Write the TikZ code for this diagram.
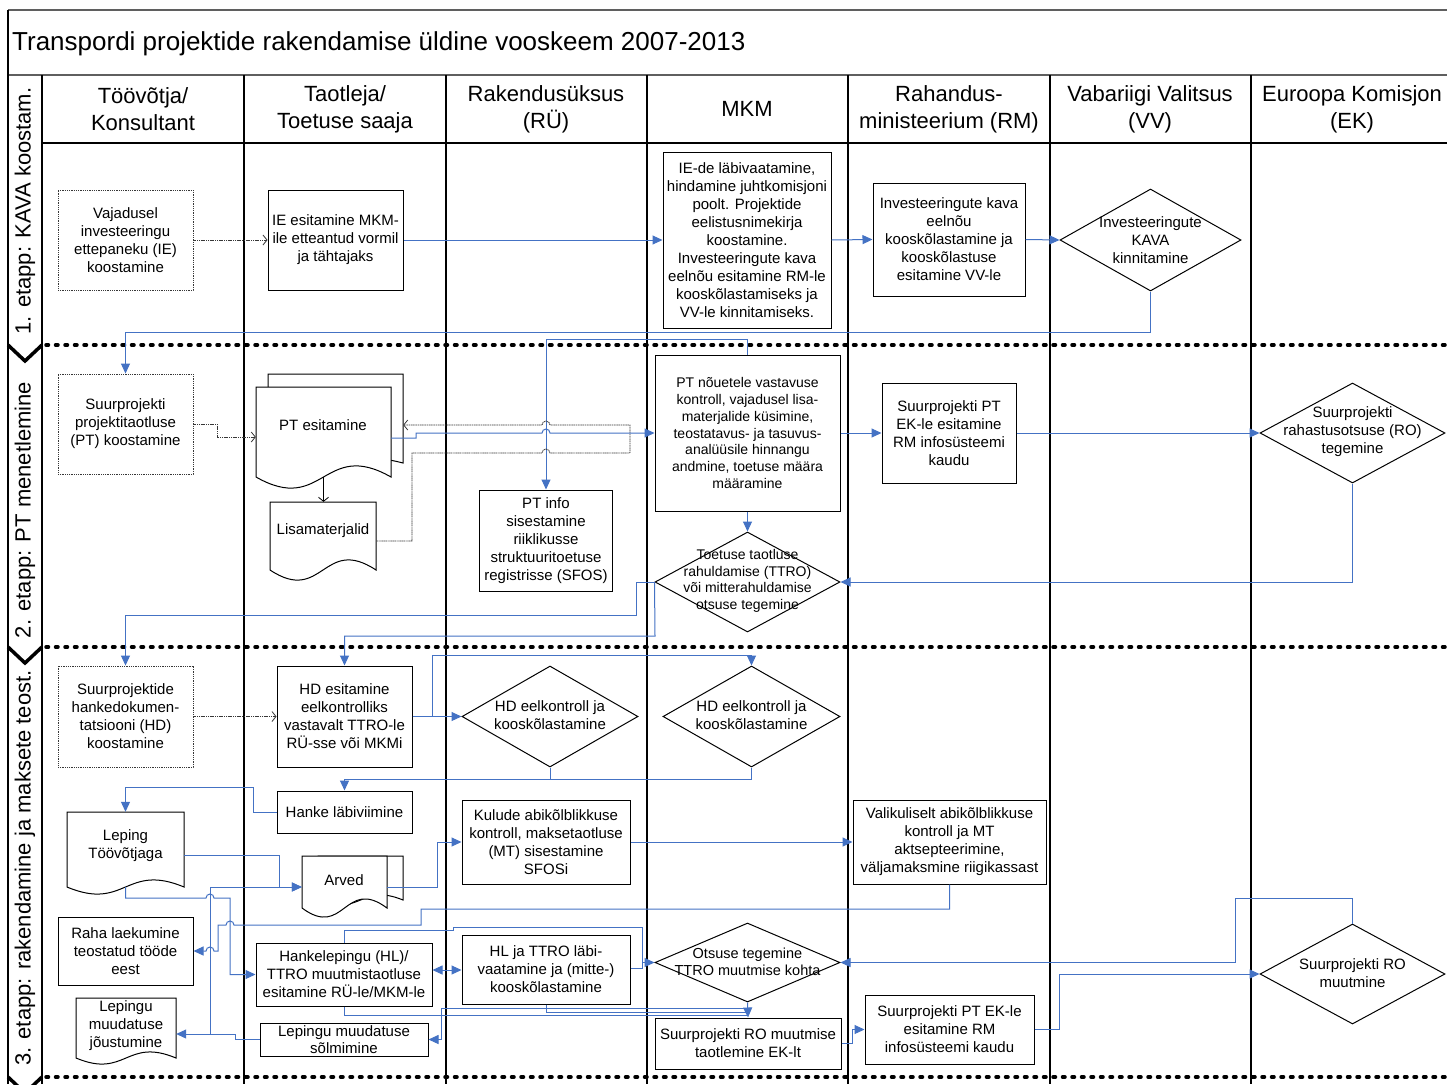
\documentclass[tikz,border=0pt]{standalone}
\usepackage{fontspec}
\setmainfont{Liberation Sans}
\usetikzlibrary{arrows.meta,shapes.geometric}
\definecolor{cblue}{RGB}{68,114,196}
\definecolor{cgray}{RGB}{55,55,55}
\definecolor{fgray}{RGB}{95,95,95}
\tikzset{
 body/.style={font=\fontsize{15}{18}\selectfont, align=center, text=black},
 small/.style={font=\fontsize{14}{16.7}\selectfont},
 box/.style={body, draw=black, line width=1pt, fill=white, rectangle, inner sep=1pt},
 dbox/.style={box, draw=cgray, dash pattern=on 1pt off 0.8pt, line width=0.9pt},
 dia/.style={draw=black, line width=1pt, diamond, inner sep=0pt, fill=white},
 lbl/.style={body, inner sep=0pt},
 ghost/.style={inner sep=0pt, draw=none},
 bline/.style={draw=cblue, line width=1pt},
 bconn/.style={bline, -{Triangle[length=10pt,width=9pt]}},
 bboth/.style={bline, {Triangle[length=10pt,width=9pt]}-{Triangle[length=10pt,width=9pt]}},
 gconn/.style={draw=cgray, line width=0.8pt, dash pattern=on 1.2pt off 0.6pt, -{Straight Barb[length=4pt,width=10pt]}},
 kconn/.style={draw=black, line width=0.8pt, -{Straight Barb[length=4pt,width=10pt]}},
 docst/.style={draw=black, line width=1pt, fill=white},
 hdr/.style={font=\fontsize{22}{27}\selectfont, align=center, inner sep=0pt},
 sepline/.style={line width=3.5pt, dash pattern=on 2.5pt off 7pt, line cap=round},
 colline/.style={line width=1.2pt, draw=black},
 frameline/.style={line width=2pt, draw=fgray},
 chev/.style={line width=3.5pt, draw=black, line join=miter},
}
\newcommand\DocShape[5]{%
 \path[docst] (#1,#2) -- (#3,#2) -- (#3,#4) .. controls ({(#1+#3)/2},{#4-3.5*#5}) and ({(#1+#3)/2},{#4+3.5*#5}) .. (#1,#4) -- cycle;}
\begin{document}
\begin{tikzpicture}[x=1pt,y=-1pt]
\useasboundingbox (0,0) rectangle (1447,1084);
\fill[white] (0,0) rectangle (1447,1084);

% frame
\draw[frameline] (8,10) -- (1447,10);
\draw[frameline] (8,75) -- (1447,75);
\draw[colline] (8,10) -- (8,1084);
\draw[colline] (42,75) -- (42,1084);
\draw[colline] (42,143) -- (1447,143);
\foreach \cx in {244,446,647,848,1050,1251} {\draw[colline] (\cx,75) -- (\cx,1084);}
\foreach \sy in {345,647,1077} {
  \draw[sepline] (46,\sy) -- (1447,\sy);
  \draw[chev] (8,\sy) -- (25,\sy+16) -- (42,\sy);
}

\node[anchor=base west, font=\fontsize{26}{30}\selectfont, inner sep=0pt] (title) at (12,50) {Transpordi projektide rakendamise üldine vooskeem 2007-2013};

% headers
\node[hdr] (h1) at (143,109) {Töövõtja/\\Konsultant};
\node[hdr] (h2) at (345,109) {Taotleja/\\Toetuse saaja};
\node[hdr] (h3) at (546,109) {Rakendusüksus\\(RÜ)};
\node[hdr] (h4) at (747,109) {MKM};
\node[hdr] (h5) at (949,109) {Rahandus-\\ministeerium (RM)};
\node[hdr] (h6) at (1150,109) {Vabariigi Valitsus\\(VV)};
\node[hdr] (h7) at (1352,109) {Euroopa Komisjon\\(EK)};

% lane labels
\node[hdr, rotate=90] (L1) at (25,211) {1. etapp: KAVA koostam.};
\node[hdr, rotate=90] (L2) at (25,510) {2. etapp: PT menetlemine};
\node[hdr, rotate=90] (L3) at (25,868) {3. etapp: rakendamine ja maksete teost.};

% ---------- phase 1
\node[dbox, minimum width=135pt, minimum height=100pt] (A1) at (125.5,240) {Vajadusel\\investeeringu\\ettepaneku (IE)\\koostamine};
\node[box, minimum width=135pt, minimum height=100pt] (A2) at (335.5,240) {IE esitamine MKM-\\ile etteantud vormil\\ja tähtajaks};
\node[box, minimum width=168pt, minimum height=176pt] (A3) at (747,240) {IE-de läbivaatamine,\\hindamine juhtkomisjoni\\poolt. Projektide\\eelistusnimekirja\\koostamine.\\Investeeringute kava\\eelnõu esitamine RM-le\\kooskõlastamiseks ja\\VV-le kinnitamiseks.};
\node[box, minimum width=152pt, minimum height=113pt] (A4) at (949,239.5) {Investeeringute kava\\eelnõu\\kooskõlastamine ja\\kooskõlastuse\\esitamine VV-le};
\node[dia, minimum width=181pt, minimum height=102pt] (A5) at (1150.5,240) {};
\node[lbl] (A5t) at (1150.5,240) {Investeeringute\\KAVA\\kinnitamine};

\draw[gconn] (A1.east) -- (A2.west);
\draw[bconn] (A2.east) -- (A3.west);
\draw[bconn] (A3.east) -- (A4.west);
\draw[bconn] (A4.east) -- (A5.west);

% ---------- phase 2
\node[dbox, minimum width=135pt, minimum height=100pt] (B1) at (125.5,424) {Suurprojekti\\projektitaotluse\\(PT) koostamine};
\node[ghost, minimum width=135pt, minimum height=89pt] (B2back) at (335.5,418.5) {};
\node[ghost, minimum width=135pt, minimum height=90pt] (B2) at (323.5,432) {};
\node[ghost, minimum width=106pt, minimum height=68pt] (Lisa) at (323.5,536) {};
\DocShape{268}{374}{403}{463}{5}
\DocShape{256}{387}{391}{477}{11}
\DocShape{270}{502}{376}{570}{10}
\node[lbl] (B2t) at (323,425) {PT esitamine};
\node[lbl] (Lisat) at (323,531) {Lisamaterjalid};
\node[box, minimum width=133pt, minimum height=101pt] (PTinfo) at (546,540.5) {PT info\\sisestamine\\riiklikusse\\struktuuritoetuse\\registrisse (SFOS)};
\node[box, small, minimum width=185pt, minimum height=156pt] (B3) at (747.5,433) {PT nõuetele vastavuse\\kontroll, vajadusel lisa-\\materjalide küsimine,\\teostatavus- ja tasuvus-\\analüüsile hinnangu\\andmine, toetuse määra\\määramine};
\node[box, minimum width=134pt, minimum height=100pt] (B4) at (949,433) {Suurprojekti PT\\EK-le esitamine\\RM infosüsteemi\\kaudu};
\node[dia, minimum width=185pt, minimum height=100pt] (B5) at (1352.5,433) {};
\node[lbl] (B5t) at (1352.5,432) {Suurprojekti\\rahastusotsuse (RO)\\tegemine};
\node[dia, minimum width=185pt, minimum height=100pt] (B6) at (747.5,582) {};
\node[lbl, small] (B6t) at (747.5,581) {Toetuse taotluse\\rahuldamise (TTRO)\\või mitterahuldamise\\otsuse tegemine};

\draw[bconn] (A5.south) -- (1150.5,332) -- (125.5,332) -- (B1.north);
\draw[bconn] (B3.north) |- (546,339) -- (PTinfo.north);
\draw[gconn] (B1.east) -- (217,424) -- (217,437) -- (B2.west |- 0,437);
\draw[kconn] (B2.south) -- (Lisa.north);
\draw[gconn] (Lisa.east |- 0,541) -- (412,541) -- (412,453) -- (542,453) arc (180:0:4pt) -- (630,453) -- (630,425) -- (550,425) arc (0:180:4pt) -- (B2back.east |- 0,425);
\draw[bconn] (B2.east |- 0,438) -- (416,438) -- (416,433) -- (542,433) arc (180:0:4pt) -- (B3.west);
\draw[bconn] (B3.east) -- (B4.west);
\draw[bconn] (B4.east) -- (B5.west);
\draw[bconn] (B3.south) -- (B6.north);
\draw[bconn] (B5.south) |- (B6.east);

% ---------- phase 3
\node[dbox, minimum width=135pt, minimum height=101pt] (C1) at (125.5,716.5) {Suurprojektide\\hankedokumen-\\tatsiooni (HD)\\koostamine};
\node[box, minimum width=135pt, minimum height=101pt] (C2) at (344.5,716.5) {HD esitamine\\eelkontrolliks\\vastavalt TTRO-le\\RÜ-sse või MKMi};
\node[dia, minimum width=176pt, minimum height=101pt] (C3) at (550,716.5) {};
\node[lbl] (C3t) at (550,715) {HD eelkontroll ja\\kooskõlastamine};
\node[dia, minimum width=177pt, minimum height=101pt] (C4) at (751.5,716.5) {};
\node[lbl] (C4t) at (751.5,715) {HD eelkontroll ja\\kooskõlastamine};
\node[box, minimum width=135pt, minimum height=42pt] (C5) at (344.5,812) {Hanke läbiviimine};
\node[ghost, minimum width=117pt, minimum height=75pt] (Leping) at (125.5,849.5) {};
\DocShape{67}{812}{184}{887}{7}
\node[lbl] (Lepingt) at (125.5,845.5) {Leping\\Töövõtjaga};
\node[ghost, minimum width=85pt, minimum height=44pt] (ArvedB) at (360.5,878) {};
\node[ghost, minimum width=85pt, minimum height=52pt] (Arved) at (344.5,882) {};
\DocShape{318}{856}{403}{900}{5}
\DocShape{302}{856}{387}{908}{9}
\node[lbl] (Arvedt) at (344,880) {Arved};
\node[box, minimum width=168pt, minimum height=84pt] (C8) at (546,842) {Kulude abikõlblikkuse\\kontroll, maksetaotluse\\(MT) sisestamine\\SFOSi};
\node[box, minimum width=193pt, minimum height=84pt] (C10) at (949.5,842) {Valikuliselt abikõlblikkuse\\kontroll ja MT\\aktsepteerimine,\\väljamaksmine riigikassast};
\node[box, minimum width=135pt, minimum height=68pt] (C18) at (125.5,951) {Raha laekumine\\teostatud tööde\\eest};
\node[box, minimum width=176pt, minimum height=63pt] (C9) at (344,974.5) {Hankelepingu (HL)/\\TTRO muutmistaotluse\\esitamine RÜ-le/MKM-le};
\node[box, minimum width=168pt, minimum height=69pt] (C13) at (546,969.5) {HL ja TTRO läbi-\\vaatamine ja (mitte-)\\kooskõlastamine};
\node[dia, minimum width=185pt, minimum height=79pt] (C14) at (747.5,962.5) {};
\node[lbl, font=\fontsize{14.5}{16.5}\selectfont] (C14t) at (747.5,962) {Otsuse tegemine\\TTRO muutmise kohta};
\node[ghost, minimum width=100pt, minimum height=60pt] (C12) at (126,1028) {};
\DocShape{76}{998}{176}{1058}{6}
\node[lbl] (C12t) at (126,1026) {Lepingu\\muudatuse\\jõustumine};
\node[box, font=\fontsize{15}{17}\selectfont, minimum width=168pt, minimum height=33pt] (C11) at (344,1039.5) {Lepingu muudatuse\\sõlmimine};
\node[box, minimum width=186pt, minimum height=51pt] (C15) at (748,1043.5) {Suurprojekti RO muutmise\\taotlemine EK-lt};
\node[box, minimum width=169pt, minimum height=69pt] (C16) at (949.5,1029.5) {Suurprojekti PT EK-le\\esitamine RM\\infosüsteemi kaudu};
\node[dia, minimum width=185pt, minimum height=100pt] (C17) at (1352.5,974) {};
\node[lbl] (C17t) at (1352.5,973) {Suurprojekti RO\\muutmine};

% phase 2 -> 3
\draw[bconn] (B6.west) -- (636,582) -- (636,615) -- (125.5,615) -- (C1.north);
\draw[bconn] (B6.west) -- (655,636) -- (344.5,636) -- (C2.north);

\draw[gconn] (C1.east) -- (C2.west);
\draw[bconn] (C2.east) -- (C3.west);
\draw[bconn] (C2.east) -- (432,716.5) -- (432,655) -- (751.5,655) -- (C4.north);
\draw[bline] (C4.south) -- (751.5,779) -- (550,779);
\draw[bconn] (C3.south) -- (550,779) -- (344.5,779) -- (C5.north);
\draw[bconn] (C5.west) -- (253,812) -- (253,787) -- (125.5,787) -- (Leping.north);
\draw[bconn] (Leping.east |- 0,855) -- (279,855) -- (279,887) -- (Arved.west |- 0,887);
\draw[bconn] (Leping.south) -- (125.5,898) -- (206,898) arc (180:0:4pt) -- (230,898) -- (230,974.5) -- (C9.west);
\draw[bconn] (Arved.east |- 0,887) -- (437,887) -- (437,842) -- (C8.west);
\draw[bconn] (C8.east) -- (C10.west);
\draw[bconn] (C10.south) -- (949.5,909) -- (421,909) -- (421,925) -- (234,925) arc (0:180:4pt) -- (218,925) -- (218,951) -- (214,951) arc (0:180:4pt) -- (C18.east);
\draw[bconn] (C11.west) -- (235,1039.5) -- (235,1034) -- (C12.east |- 0,1034);
\draw[bconn] (235,1034) -- (210,1034) -- (210,887) -- (Arved.west |- 0,887);
\draw[bboth] (C9.east |- 0,970) -- (C13.west |- 0,970);
\draw[bconn] (C9.north) -- (344,930) -- (453,930) -- (453,927) -- (642,927) -- (642,962.5) -- (C14.west);
\draw[bline] (C13.east |- 0,968) -- (642,968) -- (642,962.5);
\draw[bconn] (C14.south) -- (C15.north);
\draw[bline] (C13.south) -- (546,1012) -- (747.5,1012);
\draw[bline] (C9.south) -- (344,1015) -- (747.5,1015);
\draw[bconn] (C14.south) -- (747.5,1008) -- (441,1008) -- (441,1039.5) -- (C11.east);
\draw[bconn] (C15.east) -- (852,1043.5) -- (852,1029.5) -- (C16.west);
\draw[bconn] (C16.east) -- (1059,1029.5) -- (1059,974) -- (C17.west);
\draw[bconn] (C17.north) -- (1352.5,898) -- (1235,898) -- (1235,962.5) -- (C14.east);
\end{tikzpicture}
\end{document}
